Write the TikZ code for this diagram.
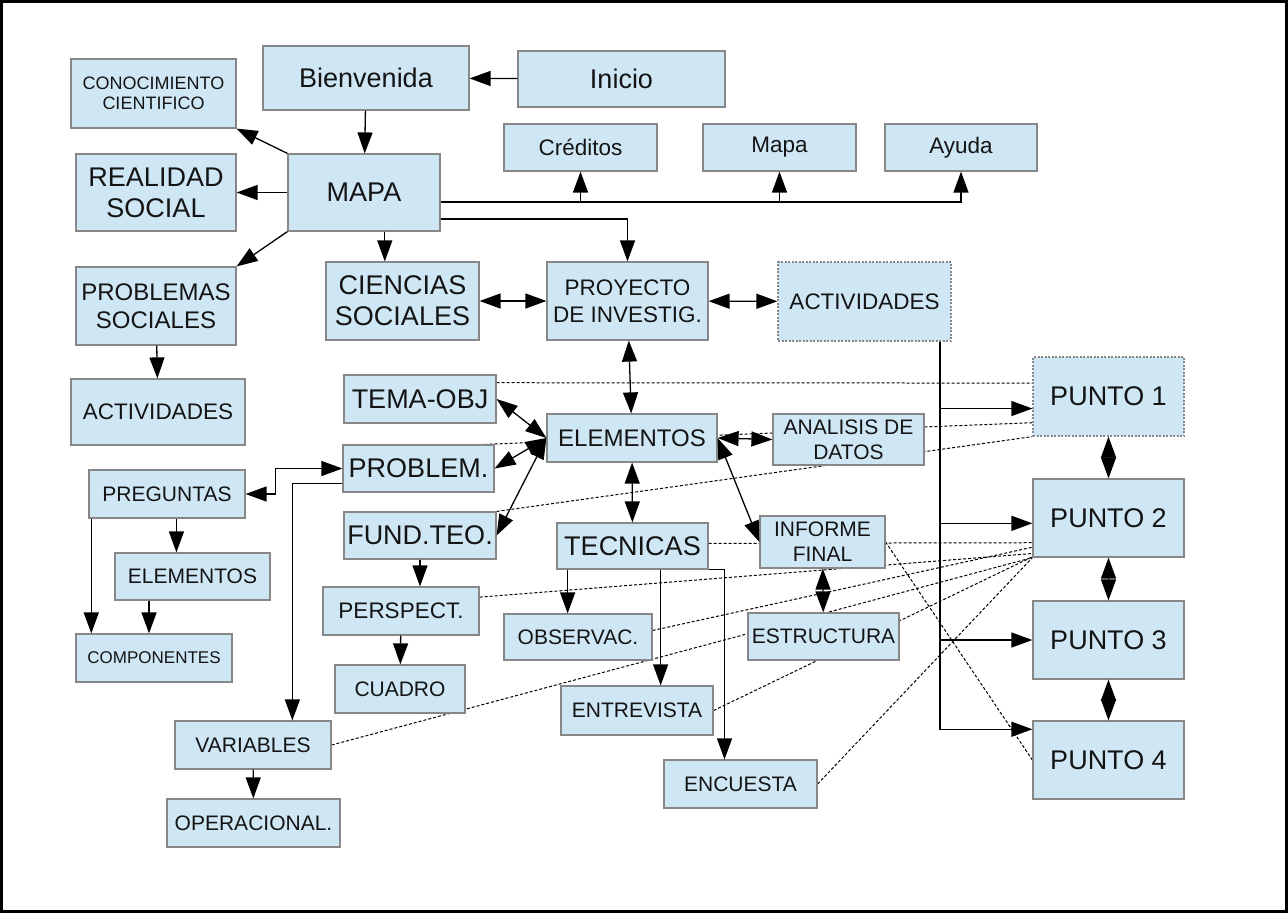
\documentclass[tikz,border=0pt]{standalone}
\usepackage{fontspec}
\setmainfont{Liberation Sans}
\usetikzlibrary{arrows.meta,backgrounds}
\definecolor{boxfill}{RGB}{207,231,245}
\definecolor{boxline}{RGB}{135,135,135}
\definecolor{ink}{RGB}{20,20,20}

\begin{document}
\begin{tikzpicture}[x = 1pt, y = -1pt,
    >={Triangle[length = 21pt, width = 15pt]},
    box/.style = {draw = boxline, line width = 1.2pt, fill = boxfill, text = ink, inner sep = 0pt, align = center},
    dotbox/.style = {box, dash pattern = on 2pt off 1.5pt},
    wh/.style 2 args = {minimum width = #1pt, minimum height = #2pt},
    big/.style = {font = \fontsize{27}{31}\selectfont},
    mid/.style = {font = \fontsize{24}{28}\selectfont},
    std/.style = {font = \fontsize{22.5}{27}\selectfont},
    sml/.style = {font = \fontsize{21}{25}\selectfont},
    lbl/.style = {font = \fontsize{18}{20}\selectfont},
    conn/.style = {->, line width = 1.3pt},
    both/.style = {<->, line width = 1.3pt},
    link/.style = {line width = 1pt, dash pattern = on 3pt off 2pt}]

    \useasboundingbox (0,0) rectangle (1288,913);
    \draw[line width = 2.5pt] (1.5,1.5) rectangle (1286.5,911.5);

    \node[box, big, wh = {206}{64}] (bienv) at (366,78) {Bienvenida};
    \node[box, big, wh = {207}{56}] (inicio) at (621.5,79) {Inicio};
    \node[box, lbl, wh = {165}{69}] (conoc) at (153.5,93.5) {CONOCIMIENTO\\CIENTIFICO};
    \node[box, big, wh = {160}{77}] (realidad) at (156,192.5) {REALIDAD\\SOCIAL};
    \node[box, big, wh = {152}{77}] (mapa) at (364,192.5) {MAPA};
    \node[box, std, wh = {153}{47}] (creditos) at (580.5,147.5) {Créditos};
    \node[box, std, wh = {153}{47}] (mapita) at (779.5,147.5) {Mapa};
    \node[box, std, wh = {152}{47}] (ayuda) at (961,147.5) {Ayuda};

    \node[box, big, wh = {153}{78}] (ciencias) at (402.5,301) {CIENCIAS\\SOCIALES};
    \node[box, std, wh = {161}{78}] (proyecto) at (627.5,301) {PROYECTO\\DE INVESTIG.};
    \node[dotbox, std, wh = {173}{79}] (activ) at (864.5,301.5) {ACTIVIDADES};
    \node[box, mid, wh = {160}{78}] (probsoc) at (156,306) {PROBLEMAS\\SOCIALES};
    \node[box, std, wh = {174}{66}] (activsoc) at (158,412) {ACTIVIDADES};

    \node[box, big, wh = {152}{48}] (tema) at (420,399) {TEMA-OBJ};
    \node[box, big, wh = {151}{47}] (problem) at (418.5,468.5) {PROBLEM.};
    \node[box, big, wh = {152}{47}] (fundteo) at (420,535.5) {FUND.TEO.};
    \node[box, mid, wh = {170}{48}] (elem) at (632,438) {ELEMENTOS};
    \node[box, sml, wh = {151}{51}] (analisis) at (848.5,439.5) {ANALISIS DE\\DATOS};
    \node[box, sml, wh = {125}{52}] (informe) at (822.5,542) {INFORME\\FINAL};
    \node[box, big, wh = {151}{46}] (tecnicas) at (632.5,546) {TECNICAS};

    \node[dotbox, big, wh = {151}{79}] (punto1) at (1108.5,396.5) {PUNTO 1};
    \node[box, big, wh = {151}{78}] (punto2) at (1108.5,518) {PUNTO 2};
    \node[box, big, wh = {151}{78}] (punto3) at (1108.5,640) {PUNTO 3};
    \node[box, big, wh = {151}{78}] (punto4) at (1108.5,760) {PUNTO 4};

    \node[box, sml, wh = {156}{48}] (preg) at (167,494) {PREGUNTAS};
    \node[box, sml, wh = {155}{47}] (elemprg) at (192.5,576.5) {ELEMENTOS};
    \node[box, font = \fontsize{17}{20}\selectfont, wh = {156}{48}] (compo) at (154,658) {COMPONENTES};
    \node[box, std, wh = {156}{48}] (persp) at (401,611) {PERSPECT.};
    \node[box, sml, wh = {130}{48}] (cuadro) at (400,689) {CUADRO};
    \node[box, sml, wh = {156}{48}] (variab) at (253,745) {VARIABLES};
    \node[box, sml, wh = {173}{48}] (operac) at (253.5,823) {OPERACIONAL.};
    \node[box, sml, wh = {148}{46}] (observ) at (578,637) {OBSERVAC.};
    \node[box, sml, wh = {151}{47}] (estruct) at (823.5,636.5) {ESTRUCTURA};
    \node[box, sml, wh = {152}{49}] (entrev) at (637,710.5) {ENTREVISTA};
    \node[box, sml, wh = {153}{48}] (encuesta) at (740.5,784) {ENCUESTA};

    \begin{pgfonlayer}{background}
        \draw[link] (tema.12) -- (punto1.170);
        \draw[link] (problem.20) -- (punto1.199);
        \draw[link] (fundteo.north east) -- (punto1.south west);
        \draw[link] (tecnicas.2) -- (punto2.198);
        \draw[link] (observ.5) -- (punto2.201);
        \draw[link] (persp.10) -- (punto2.205);
        \draw[link] (entrev.east) -- (punto2.207);
        \draw[link] (variab.east) -- (punto2.south west);
        \draw[link] (encuesta.east) -- (punto2.south west);
        \draw[link] (informe.east) -- (punto4.west);
    \end{pgfonlayer}

    \draw[conn] (inicio) -- (bienv);
    \draw[conn] (bienv) -- (mapa);
    \draw[conn] (mapa.north west) -- (conoc.south east);
    \draw[conn] (mapa) -- (realidad);
    \draw[conn] (mapa.south west) -- (probsoc.north east);
    \draw[conn] (mapa.-62) -- (mapa.-62 |- ciencias.north);
    \draw[conn] (mapa.-7) -| (ayuda.south);
    \draw[conn] (mapa.-7 -| creditos.south) -- (creditos.south);
    \draw[conn] (mapa.-7 -| mapita.south) -- (mapita.south);
    \draw[conn] (mapa.-19) -| (proyecto.north);
    \draw[conn] (probsoc) -- (activsoc);

    \draw[both] (ciencias) -- (proyecto);
    \draw[both] (proyecto) -- (activ);
    \draw[both] (proyecto) -- (elem);
    \draw[both] (tema.east) -- (elem.west);
    \draw[both] (problem.east) -- (elem.west);
    \draw[both] (fundteo.east) -- (elem.west);
    \draw[both] (elem) -- (tecnicas);
    \draw[both] (elem.east) -- (analisis.west);
    \draw[both] (elem.east) -- (informe.west);
    \draw[both] (informe) -- (estruct);

    \draw[conn] (activ.-28) |- (punto4.158);
    \draw[conn] (activ.-28 |- punto1.189) -- (punto1.189);
    \draw[conn] (activ.-28 |- punto2.184) -- (punto2.184);
    \draw[conn] (activ.-28 |- punto3.west) -- (punto3.west);
    \draw[both] (punto1) -- (punto2);
    \draw[both] (punto2) -- (punto3);
    \draw[both] (punto3) -- (punto4);

    \draw[both] (preg.east) -- ++(30,0) |- (problem.west);
    \draw[conn] (problem.191) -| (variab.32);
    \draw[conn] (preg.-69) -- (preg.-69 |- elemprg.north);
    \draw[conn] (preg.-162) -- (preg.-162 |- compo.north);
    \draw[conn] (elemprg.-151) -- (elemprg.-151 |- compo.north);
    \draw[conn] (fundteo.south) -- (fundteo.south |- persp.north);
    \draw[conn] (persp) -- (cuadro);
    \draw[conn] (variab) -- (operac);

    \draw[conn] (tecnicas.-160) -- (tecnicas.-160 |- observ.north);
    \draw[conn] (tecnicas.-40) -- (tecnicas.-40 |- entrev.north);
    \draw[conn] (tecnicas.south east) -| (encuesta.123);

\end{tikzpicture}
\end{document}
